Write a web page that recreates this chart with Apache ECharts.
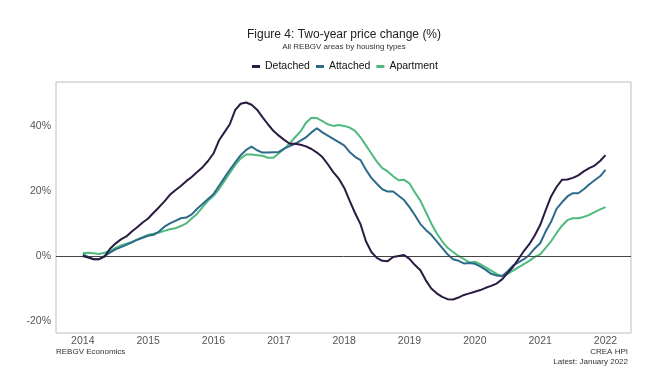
<!DOCTYPE html>
<html>
<head>
<meta charset="utf-8">
<script src="https://cdn.jsdelivr.net/npm/echarts@6/dist/echarts.min.js"></script>
<style>
html,body{margin:0;padding:0;background:#fff;}
#c{width:667px;height:370px;}
</style>
</head>
<body>
<div id="c"></div>
<script>
// Monthly data, January 2014 to January 2022
var startYear = 2014;
var seriesNames = ['Detached', 'Attached', 'Apartment'];
var xTickLabels = [2014, 2015, 2016, 2017, 2018, 2019, 2020, 2021, 2022];
var yTickLabels = [-20, 0, 20, 40];

var detached = [
  0, -0.5, -1, -1, -0.2, 2.2, 3.8, 5.1, 6, 7.5, 8.8, 10.3,
  11.5, 13.3, 15, 16.8, 18.8, 20.2, 21.5, 23, 24.3, 25.8, 27.3, 29.2,
  31.5, 35.5, 38, 40.5, 44.9, 46.8, 47.2, 46.5, 45, 42.7, 40.5, 38.5,
  37, 35.7, 34.5, 34.5, 34.2, 33.7, 32.9, 31.8, 30.4, 28.2, 25.8, 23.8,
  21, 17, 13.2, 9.8, 4.5, 1.2, -0.6, -1.5, -1.6, -0.3, 0, 0.3,
  -0.9, -2.8, -4.4, -7.5, -10, -11.5, -12.6, -13.3, -13.4, -12.8, -12, -11.5,
  -11, -10.5, -9.8, -9.2, -8.5, -7.2, -5.3, -3.4, -1, 1.5, 3.6, 6.3,
  9.5, 14, 18.3, 21.2, 23.4, 23.5, 24, 24.8, 26, 27, 27.8, 29.2,
  31
];
var attached = [
  0.5, -0.3, -1, -1, 0, 1, 2, 2.7, 3.4, 4.2, 5, 5.6,
  6.2, 6.5, 7.5, 9, 10, 10.8, 11.6, 11.8, 12.8, 14.5, 16, 17.5,
  19, 21.5, 24, 26.5, 28.8, 31, 32.6, 33.6, 32.5, 31.8, 31.8, 31.9,
  32, 33, 33.8, 34.5, 35.5, 36.5, 38, 39.3, 38, 37, 36, 35,
  34, 32, 30.5, 29.5, 26.5, 24, 22.2, 20.5, 19.8, 19.8, 18.5, 17.2,
  15, 12.5, 9.8, 8, 6.5, 4.5, 2.5, 0.5, -1, -1.5, -2.3, -2.2,
  -2.4, -3.2, -4.3, -5.5, -6, -6.2, -4.8, -3, -2, -1, 0.3, 2.3,
  3.9, 7.5, 10.5, 14.5, 16.5, 18.3, 19.3, 19.3, 20.5, 22, 23.3, 24.5,
  26.5
];
var apartment = [
  0.8, 1, 0.8, 0.6, 1, 1.5, 2.5, 3.2, 3.8, 4.3, 5, 5.8,
  6.5, 6.8, 7.2, 7.7, 8.2, 8.5, 9.2, 10, 11.5, 13, 15, 17,
  18.5, 20.5, 23, 25.5, 28, 30, 31.2, 31.2, 31, 30.8, 30.2, 30.2,
  31.6, 33, 34.7, 36.5, 38.3, 41, 42.5, 42.4, 41.5, 40.5, 40, 40.3,
  40, 39.5, 38.5, 36.5, 34, 31.5, 29, 27, 26, 24.5, 23.3, 23.4,
  22.3, 19.5, 17, 13.5, 10, 7, 4.5, 2.5, 1.2, 0, -1, -2,
  -1.8, -2.5, -3.5, -4.5, -5.5, -6.3, -5.5, -4.5, -3.5, -2.5, -1.5, -0.3,
  0.5, 2.5, 4.5, 7, 9.3, 11, 11.6, 11.6, 12, 12.6, 13.5, 14.3,
  15
];

var colors = ['#2b1a42', '#2e6b8b', '#4fba7e'];

function toPairs(arr) {
  return arr.map(function (v, i) { return [startYear + i / 12, v]; });
}

var font = '"Liberation Sans", Arial, sans-serif';
var chart = echarts.init(document.getElementById('c'), null, {renderer: 'canvas'});

var seriesData = [detached, attached, apartment];
var series = seriesData.map(function (arr, k) {
  return {
    name: seriesNames[k],
    type: 'line',
    data: toPairs(arr),
    showSymbol: false,
    symbol: 'none',
    smooth: false,
    lineStyle: {width: 2, color: colors[k]},
    itemStyle: {color: colors[k]},
    z: 5 - k
  };
});
series.push({
  name: 'zero',
  type: 'line',
  data: [],
  markLine: {
    silent: true,
    symbol: 'none',
    label: {show: false},
    lineStyle: {color: '#444', width: 1, type: 'solid'},
    data: [{yAxis: 0}]
  },
  z: 1
});

chart.setOption({
  animation: false,
  backgroundColor: '#fff',
  color: colors,
  title: {
    text: 'Figure 4: Two-year price change (%)',
    subtext: 'All REBGV areas by housing types',
    left: 339,
    textAlign: 'center',
    top: 24,
    itemGap: 2,
    textStyle: {fontFamily: font, fontSize: 12, fontWeight: 'normal', color: '#222'},
    subtextStyle: {fontFamily: font, fontSize: 8, color: '#333'}
  },
  legend: {
    data: seriesNames,
    top: 56,
    left: 247,
    icon: 'rect',
    itemWidth: 8,
    itemHeight: 3,
    itemGap: 6,
    textStyle: {fontFamily: font, fontSize: 10.5, color: '#111'}
  },
  grid: {
    left: 56, right: 36, top: 82, bottom: 37,
    show: true,
    borderColor: '#bdbdbd',
    borderWidth: 1,
    containLabel: false
  },
  xAxis: {
    type: 'value',
    min: 2013.59,
    max: 2022.39,
    axisLine: {show: false},
    axisTick: {show: false},
    splitLine: {show: false},
    axisLabel: {
      customValues: xTickLabels,
      formatter: function (v) { return String(Math.round(v)); },
      fontFamily: font, fontSize: 10.5, color: '#555', margin: 3
    }
  },
  yAxis: {
    type: 'value',
    min: -23.7,
    max: 53.5,
    axisLine: {show: false},
    axisTick: {show: false},
    splitLine: {show: false},
    axisLabel: {
      customValues: yTickLabels,
      formatter: function (v) { return Math.round(v) + '%'; },
      fontFamily: font, fontSize: 10.5, color: '#555', margin: 5
    }
  },
  graphic: [
    {type: 'text', left: 56, top: 348, style: {text: 'REBGV Economics', fontFamily: font, fontSize: 8, fill: '#333'}},
    {type: 'text', right: 39, top: 348, style: {text: 'CREA HPI', fontFamily: font, fontSize: 8, fill: '#333', align: 'right'}},
    {type: 'text', right: 39, top: 358, style: {text: 'Latest: January 2022', fontFamily: font, fontSize: 8, fill: '#333', align: 'right'}}
  ],
  series: series
});
</script>
</body>
</html>
